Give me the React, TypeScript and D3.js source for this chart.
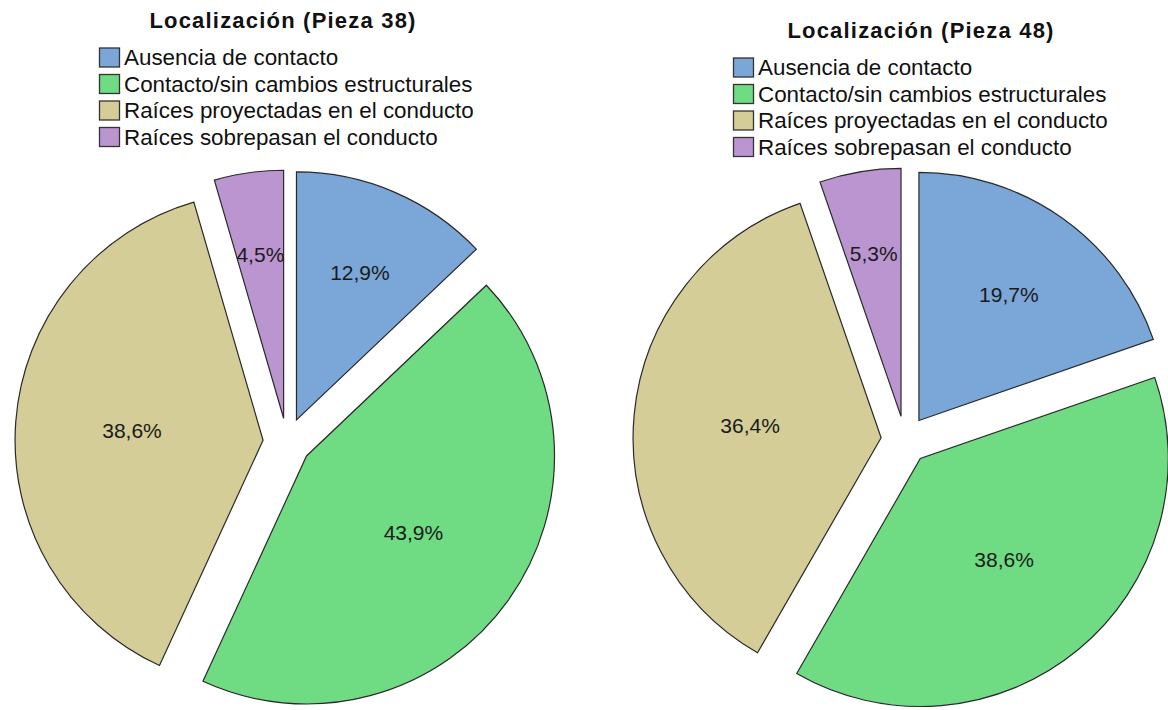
import React from "react";
import * as d3 from "d3";

const categories = [
  "Ausencia de contacto",
  "Contacto/sin cambios estructurales",
  "Raíces proyectadas en el conducto",
  "Raíces sobrepasan el conducto",
];
const colors = ["#7AA6D8", "#6FDB83", "#D4CD97", "#BB95CF"];

const titles = ["Localización (Pieza 38)", "Localización (Pieza 48)"];
const valuesPieza38 = [12.9, 43.9, 38.6, 4.5];
const valuesPieza48 = [19.7, 38.6, 36.4, 5.3];
const labelsPieza38 = ["12,9%", "43,9%", "38,6%", "4,5%"];
const labelsPieza48 = ["19,7%", "38,6%", "36,4%", "5,3%"];

const panels = [
  { title: titles[0], values: valuesPieza38, labels: labelsPieza38, cx: 287, cy: 442, titleX: 283, titleY: 28, legX: 99, legY: 57 },
  { title: titles[1], values: valuesPieza48, labels: labelsPieza48, cx: 905, cy: 440, titleX: 921, titleY: 38, legX: 733, legY: 67 },
];

const R = 248;
const EXPLODE = 24;
const ROW = 26.5;
const FONT = "'Liberation Sans', Arial, sans-serif";

function Panel({ p }: { p: (typeof panels)[number] }) {
  const pie = d3.pie<number>().sort(null).value((d) => d)(p.values);
  const arc = d3.arc<d3.PieArcDatum<number>>().innerRadius(0).outerRadius(R);
  return (
    <g>
      <text x={p.titleX} y={p.titleY} textAnchor="middle" fontFamily={FONT} fontWeight="bold" fontSize={22} letterSpacing={1.2} fill="#111">
        {p.title}
      </text>
      {categories.map((c, i) => (
        <g key={c} transform={`translate(${p.legX},${p.legY + i * ROW})`}>
          <rect x={0.5} y={-9} width={20} height={19} fill={colors[i]} stroke="#333" strokeWidth={1.3} />
          <text x={25} y={8} fontFamily={FONT} fontSize={22.4} fill="#111">{c}</text>
        </g>
      ))}
      <g transform={`translate(${p.cx},${p.cy})`}>
        {pie.map((s, i) => {
          const mid = (s.startAngle + s.endAngle) / 2;
          const dx = EXPLODE * Math.sin(mid);
          const dy = -EXPLODE * Math.cos(mid);
          const half = (s.endAngle - s.startAngle) / 2;
          const cent = (2 * R * Math.sin(half)) / (3 * half);
          const lr = Math.max(cent, 0.53 * R);
          const lx = lr * Math.sin(mid);
          const ly = -lr * Math.cos(mid);
          return (
            <g key={i} transform={`translate(${dx},${dy})`}>
              <path d={arc(s) || ""} fill={colors[i]} stroke="#2a2a2a" strokeWidth={1.2} strokeLinejoin="miter" />
              <text x={lx} y={ly} dy="0.35em" textAnchor="middle" fontFamily={FONT} fontSize={21} fill="#1a1a1a">
                {p.labels[i]}
              </text>
            </g>
          );
        })}
      </g>
    </g>
  );
}

export default function App() {
  return (
    <svg width={1168} height={710} style={{ position: "absolute", left: 0, top: 0, background: "#fff" }}>
      <rect width={1168} height={710} fill="#fff" />
      {panels.map((p) => (
        <Panel key={p.title} p={p} />
      ))}
    </svg>
  );
}
